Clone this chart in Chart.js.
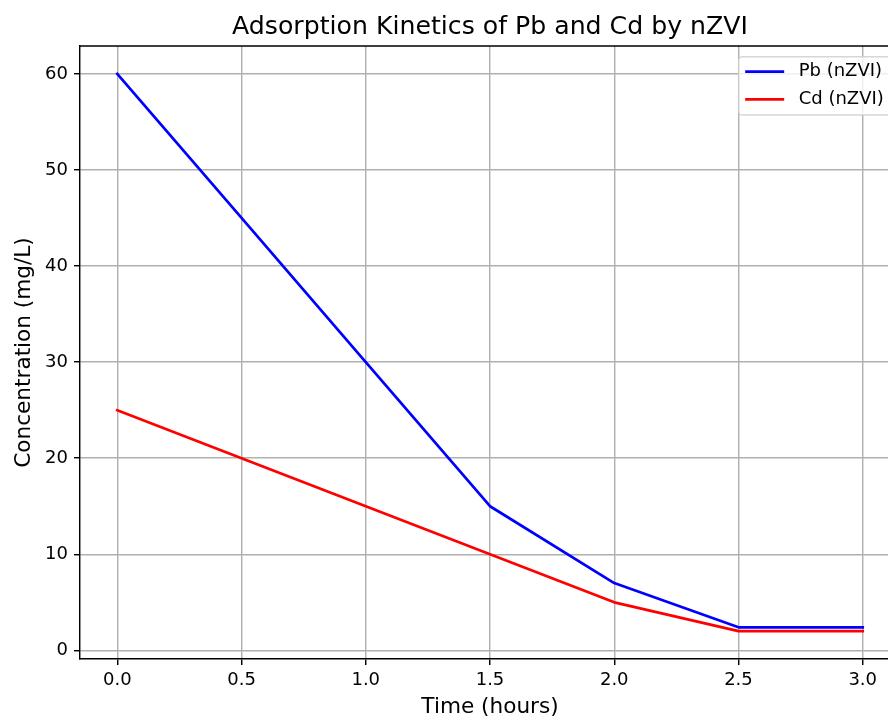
<!DOCTYPE html>
<html><head><meta charset="utf-8">
<script src="https://cdn.jsdelivr.net/npm/chart.js@4/dist/chart.umd.min.js"></script>
<style>
html,body{margin:0;padding:0;background:#fff;overflow:hidden}
#wrap{position:absolute;left:0;top:0;width:888px;height:717px;overflow:hidden;background:#fff}
canvas{display:block}
</style></head><body>
<div id="wrap"><canvas id="c" width="910" height="730"></canvas></div>
<script>
const timeHours = [0, 0.5, 1.0, 1.5, 2.0, 2.5, 3.0];
const pbConcentration = [60, 45, 30, 15, 7, 2.4, 2.4];
const cdConcentration = [25, 20, 15, 10, 5, 2, 2];
const xTickValues = [0, 0.5, 1.0, 1.5, 2.0, 2.5, 3.0];
const yTickValues = [0, 10, 20, 30, 40, 50, 60];
const seriesLabels = ['Pb (nZVI)', 'Cd (nZVI)'];
const seriesColors = ['#0000ff', '#ff0000'];
const chartTitle = 'Adsorption Kinetics of Pb and Cd by nZVI';
const xAxisTitle = 'Time (hours)';
const yAxisTitle = 'Concentration (mg/L)';

const FONT = "'DejaVu Sans', sans-serif";
const toPoints = (xs, ys) => xs.map((x, i) => ({x: x, y: ys[i]}));

const framePlugin = {
  id: 'frame',
  afterDatasetsDraw(chart) {
    const {ctx, chartArea: a} = chart;
    ctx.save();
    ctx.strokeStyle = '#000';
    ctx.lineWidth = 1.44;
    ctx.beginPath();
    ctx.moveTo(a.left, a.top);
    ctx.lineTo(a.right, a.top);
    ctx.lineTo(a.right, a.bottom);
    ctx.stroke();
    ctx.restore();
  }
};

const titlePlugin = {
  id: 'mplTitle',
  afterDraw(chart) {
    const {ctx, chartArea: a} = chart;
    ctx.save();
    ctx.font = '25.2px ' + FONT;
    ctx.fillStyle = '#000';
    ctx.textAlign = 'center';
    ctx.textBaseline = 'alphabetic';
    ctx.fillText(chartTitle, (a.left + a.right) / 2, 33.5);
    ctx.restore();
  }
};

const legendPlugin = {
  id: 'mplLegend',
  afterDraw(chart) {
    const {ctx, chartArea: a} = chart;
    const fs = 18;
    ctx.save();
    ctx.font = fs + 'px ' + FONT;
    const items = chart.data.datasets.map(d => ({label: d.label, color: d.borderColor}));
    const textW = Math.max(...items.map(i => ctx.measureText(i.label).width));
    const pad = 6.5, handle = 39, htp = 14.5, first = 15, step = 27.6;
    const w = pad + handle + htp + textW + 7.2;
    const h = 58.3;
    const x = a.right - 9 - w;
    const y = a.top + 10.7;
    ctx.beginPath();
    ctx.roundRect(x, y, w, h, 3.6);
    ctx.fillStyle = 'rgba(255,255,255,0.8)';
    ctx.fill();
    ctx.strokeStyle = 'rgba(204,204,204,0.8)';
    ctx.lineWidth = 1.44;
    ctx.stroke();
    items.forEach((it, i) => {
      const cy = y + first + i * step;
      ctx.strokeStyle = it.color;
      ctx.lineWidth = 2.7;
      ctx.beginPath();
      ctx.moveTo(x + pad, cy);
      ctx.lineTo(x + pad + handle, cy);
      ctx.stroke();
      ctx.fillStyle = '#000';
      ctx.textBaseline = 'middle';
      ctx.textAlign = 'left';
      ctx.fillText(it.label, x + pad + handle + htp, cy);
    });
    ctx.restore();
  }
};

const gridOpts = {color: '#b0b0b0', lineWidth: 1.44, tickColor: '#000', tickLength: 6, tickWidth: 1.44, drawTicks: true};
const borderOpts = {color: '#000', width: 1.44};
const tickFont = {family: FONT, size: 18};
const labelFont = {family: FONT, size: 21.6};

new Chart(document.getElementById('c'), {
  type: 'line',
  data: {
    datasets: [
      {label: seriesLabels[0], data: toPoints(timeHours, pbConcentration), borderColor: seriesColors[0], backgroundColor: seriesColors[0], borderWidth: 2.7, pointRadius: 0, tension: 0, fill: false, order: 1, borderJoinStyle: 'round', borderCapStyle: 'square'},
      {label: seriesLabels[1], data: toPoints(timeHours, cdConcentration), borderColor: seriesColors[1], backgroundColor: seriesColors[1], borderWidth: 2.7, pointRadius: 0, tension: 0, fill: false, order: 0, borderJoinStyle: 'round', borderCapStyle: 'square'}
    ]
  },
  options: {
    responsive: false,
    animation: false,
    devicePixelRatio: 1,
    layout: {padding: {top: 46, right: 10, left: 0, bottom: 0}},
    plugins: {legend: {display: false}, title: {display: false}, tooltip: {enabled: false}},
    scales: {
      x: {
        type: 'linear', min: -0.15, max: 3.15,
        afterBuildTicks: s => { s.ticks = xTickValues.map(v => ({value: v})); },
        afterFit: s => { s.height = 71; },
        grid: gridOpts, border: borderOpts,
        ticks: {font: tickFont, color: '#000', padding: 5, maxRotation: 0, autoSkip: false, callback: v => Number(v).toFixed(1)},
        title: {display: true, text: xAxisTitle, font: labelFont, color: '#000', padding: {top: 0, bottom: 9.5}}
      },
      y: {
        type: 'linear', min: -0.9, max: 62.9,
        afterBuildTicks: s => { s.ticks = yTickValues.map(v => ({value: v})); },
        afterFit: s => { s.width = 80; },
        grid: gridOpts, border: borderOpts,
        ticks: {font: tickFont, color: '#000', padding: 6, callback: v => String(v)},
        title: {display: true, text: yAxisTitle, font: labelFont, color: '#000', padding: {top: 11, bottom: 0}}
      }
    }
  },
  plugins: [framePlugin, titlePlugin, legendPlugin]
});
</script>
</body></html>
